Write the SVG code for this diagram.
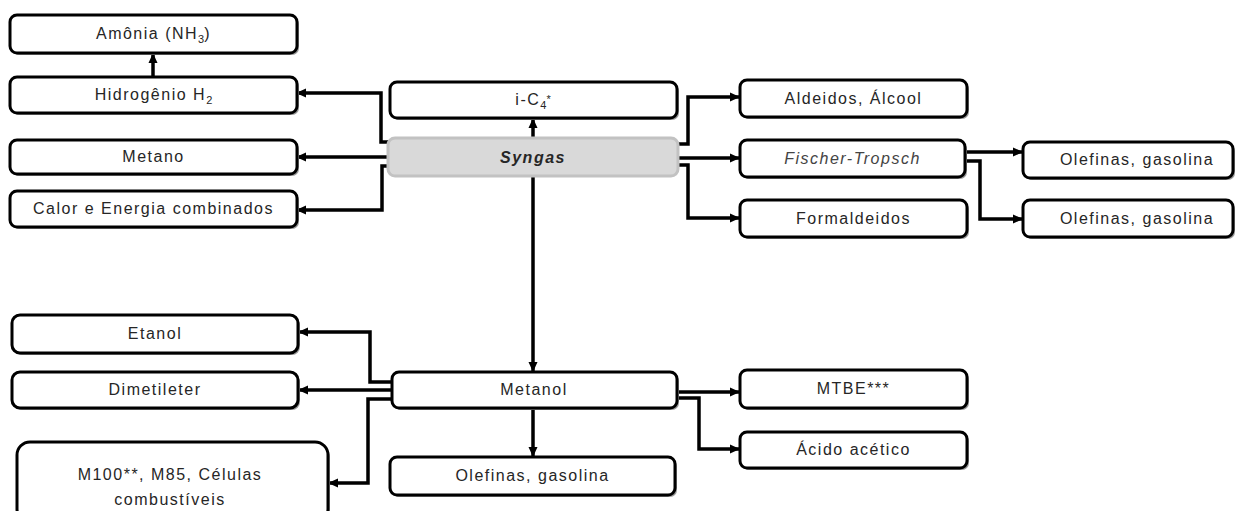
<svg xmlns="http://www.w3.org/2000/svg" width="1244" height="511" viewBox="0 0 1244 511">
<style>
.box{fill:#fff;stroke:#000;stroke-width:3}
.sh{fill:#9a9a9a;stroke:none}
.gray{fill:#d9d9d9;stroke:#c2c2c2;stroke-width:3}
text{font-family:"Liberation Sans",Arial,sans-serif;font-size:16px;fill:#262626;text-anchor:middle;letter-spacing:1.5px}
.it{font-style:italic}
.sub{font-size:11px;letter-spacing:0}
.con{fill:none;stroke:#000;stroke-width:3.5;marker-end:url(#ah)}
</style>
<defs>
<marker id="ah" markerUnits="userSpaceOnUse" markerWidth="10" markerHeight="10" viewBox="0 0 10 10" refX="9" refY="5" orient="auto">
<path d="M0,0.5 L10,5 L0,9.5 Z" fill="#000"/>
</marker>
</defs>
<rect width="1244" height="511" fill="#fff"/>

<g id="connectors">
<path class="con" d="M153,77 V54"/>
<path class="con" d="M389,142 H381 V93 H297"/>
<path class="con" d="M389,157 H297"/>
<path class="con" d="M389,166 H382 V210 H297"/>
<path class="con" d="M533,138 V119"/>
<path class="con" d="M677,144 H688 V97 H739"/>
<path class="con" d="M677,158 H739"/>
<path class="con" d="M677,165 H688 V218 H739"/>
<path class="con" d="M965,152 H1022"/>
<path class="con" d="M965,161 H980 V219 H1022"/>
<path class="con" d="M533,176 V371"/>
<path class="con" d="M391,382 H370 V332 H299"/>
<path class="con" d="M391,390 H299"/>
<path class="con" d="M391,399 H368 V483 H329"/>
<path class="con" d="M533,408 V456"/>
<path class="con" d="M676,392 H739"/>
<path class="con" d="M676,398 H699 V449 H739"/>
</g>

<g id="amonia">
<rect class="sh" x="12" y="17" width="287" height="38" rx="7"/>
<rect class="box" x="10" y="15" width="287" height="38" rx="7"/>
<text x="153.5" y="39">Amônia (NH<tspan class="sub" dy="4">3</tspan><tspan dy="-4">)</tspan></text>
</g>
<g id="hidrogenio">
<rect class="sh" x="12" y="79" width="287" height="36" rx="7"/>
<rect class="box" x="10" y="77" width="287" height="36" rx="7"/>
<text x="153.5" y="100">Hidrogênio H<tspan class="sub" dy="4">2</tspan></text>
</g>
<g id="metano">
<rect class="sh" x="12" y="142" width="287" height="34" rx="7"/>
<rect class="box" x="10" y="140" width="287" height="34" rx="7"/>
<text x="153.5" y="162">Metano</text>
</g>
<g id="calor">
<rect class="sh" x="12" y="193" width="287" height="36" rx="7"/>
<rect class="box" x="10" y="191" width="287" height="36" rx="7"/>
<text x="153.5" y="214">Calor e Energia combinados</text>
</g>
<g id="ic4">
<rect class="sh" x="392" y="84" width="287" height="36" rx="7"/>
<rect class="box" x="390" y="82" width="287" height="36" rx="7"/>
<text x="533" y="105">i-C<tspan class="sub" dy="4">4</tspan><tspan dy="-6" class="sub">*</tspan></text>
</g>
<g id="syngas">
<rect class="gray" x="388" y="138" width="290" height="38" rx="7"/>
<text x="533" y="163" class="it" font-weight="bold">Syngas</text>
</g>
<g id="aldeidos">
<rect class="sh" x="742" y="82" width="227" height="37" rx="7"/>
<rect class="box" x="740" y="80" width="227" height="37" rx="7"/>
<text x="853.5" y="104">Aldeidos, Álcool</text>
</g>
<g id="fischer">
<rect class="sh" x="742" y="142" width="225" height="37" rx="7"/>
<rect class="box" x="740" y="140" width="225" height="37" rx="7"/>
<text x="852.5" y="164" class="it" fill="#444" style="fill:#444">Fischer-Tropsch</text>
</g>
<g id="formaldeidos">
<rect class="sh" x="742" y="202" width="227" height="37" rx="7"/>
<rect class="box" x="740" y="200" width="227" height="37" rx="7"/>
<text x="853.5" y="224">Formaldeidos</text>
</g>
<g id="olefinas1">
<rect class="sh" x="1025" y="144" width="210" height="36" rx="7"/>
<rect class="box" x="1023" y="142" width="210" height="36" rx="7"/>
<text x="1137" y="165">Olefinas, gasolina</text>
</g>
<g id="olefinas2">
<rect class="sh" x="1025" y="202" width="210" height="37" rx="7"/>
<rect class="box" x="1023" y="200" width="210" height="37" rx="7"/>
<text x="1137" y="224">Olefinas, gasolina</text>
</g>
<g id="etanol">
<rect class="sh" x="14" y="317" width="286" height="38" rx="8"/>
<rect class="box" x="12" y="315" width="286" height="38" rx="8"/>
<text x="155" y="339">Etanol</text>
</g>
<g id="dimetileter">
<rect class="sh" x="14" y="374" width="286" height="36" rx="8"/>
<rect class="box" x="12" y="372" width="286" height="36" rx="8"/>
<text x="155" y="395">Dimetileter</text>
</g>
<g id="m100">
<rect class="sh" x="19" y="444" width="311" height="80" rx="13"/>
<rect class="box" x="17" y="442" width="311" height="80" rx="13"/>
<text x="170" y="480">M100**, M85, Células</text>
<text x="170" y="505">combustíveis</text>
</g>
<g id="metanol">
<rect class="sh" x="394" y="374" width="285" height="36" rx="7"/>
<rect class="box" x="392" y="372" width="285" height="36" rx="7"/>
<text x="534" y="395">Metanol</text>
</g>
<g id="olefinas3">
<rect class="sh" x="392" y="459" width="285" height="38" rx="7"/>
<rect class="box" x="390" y="457" width="285" height="38" rx="7"/>
<text x="532.5" y="481">Olefinas, gasolina</text>
</g>
<g id="mtbe">
<rect class="sh" x="742" y="372" width="227" height="38" rx="7"/>
<rect class="box" x="740" y="370" width="227" height="38" rx="7"/>
<text x="853.5" y="394">MTBE***</text>
</g>
<g id="acido">
<rect class="sh" x="742" y="434" width="227" height="36" rx="7"/>
<rect class="box" x="740" y="432" width="227" height="36" rx="7"/>
<text x="853.5" y="455">Ácido acético</text>
</g>
</svg>
